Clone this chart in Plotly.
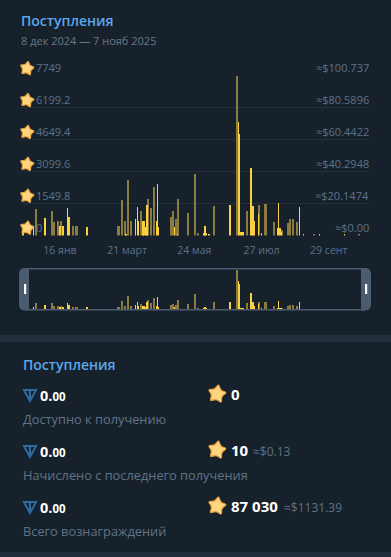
import math
import plotly.graph_objects as go

W, H = 391, 557

# ---- data (days since 8 Dec 2024, stars) ----
dim_days = [16, 32, 34, 37, 40, 52, 55, 95, 98, 101, 104, 107, 116, 123, 126, 129, 145, 147, 150, 152, 161,
            168, 171, 186, 208, 217, 229, 235, 243, 251, 256, 258, 261, 265, 281, 324]
dim_values = [1291, 1210, 645, 710, 710, 484, 484, 484, 1743, 694, 2695, 694, 1178, 1775, 1340, 2340, 920, 1178,
              790, 1775, 1097, 2985, 130, 1436, 7749, 1210, 1500, 1549, 660, 290, 597, 807, 823, 645, 90, 40]
bright_days = [4, 14, 25, 39, 42, 46, 47, 48, 65, 102, 111, 113, 114, 118, 119, 121, 122, 131, 132, 133, 148, 151,
               176, 177, 178, 181, 201, 209, 210, 211, 212, 213, 214, 221, 223, 224, 228, 231, 246, 247, 248, 249,
               250, 267, 271, 286, 310]
bright_values = [300, 400, 855, 484, 484, 1340, 888, 888, 436, 80, 807, 1404, 694, 694, 694, 436, 1500, 694, 2500,
                 400, 400, 80, 110, 484, 110, 80, 1500, 5535, 4920, 190, 190, 190, 150, 3300, 1436, 694, 1065, 100,
                 355, 1597, 355, 355, 160, 1404, 80, 70, 60]
tick_days = [39, 103, 167, 231, 295]
tick_labels = ["16 янв", "21 март", "24 мая", "27 июл", "29 сент"]
star_levels = [7749, 6199.2, 4649.4, 3099.6, 1549.8, 0]
star_labels = ["7749", "6199.2", "4649.4", "3099.6", "1549.8", "0"]
usd_labels = ["≈$100.737", "≈$80.5896", "≈$60.4422", "≈$40.2948", "≈$20.1474", "≈$0.00"]
rows = [("Доступно к получению", "0", ""),
        ("Начислено с последнего получения", "10", "≈$0.13"),
        ("Всего вознаграждений", "87 030", "≈$1131.39")]

BG = "#17212b"
STRIP = "#232e3c"
BLUE = "#5aa7ea"
AXIS = "#5c7189"
GRAY = "#5f7388"
FRAME = "#4c5c70"
FONT = "Open Sans"


def px(x):
    return x / W


def py(y):
    return 1 - y / H


def rect(x0, y0, x1, y1, color):
    return dict(type="rect", xref="paper", yref="paper", x0=px(x0), x1=px(x1), y0=py(y1), y1=py(y0),
                fillcolor=color, line_width=0, layer="below")


def star(cx, cy, r):
    pts = []
    for i in range(10):
        a = -math.pi / 2 + 0.16 + i * math.pi / 5
        rr = r * 1.38 if i % 2 == 0 else r * 0.62
        pts.append((cx + rr * math.cos(a), cy + rr * math.sin(a)))
    d = ""
    n = len(pts)
    for i in range(n):
        x, y = pts[i]
        xn, yn = pts[(i + 1) % n]
        mx, my = (x + xn) / 2, (y + yn) / 2
        if i == 0:
            xp, yp = pts[-1]
            d += f"M{px((xp + x) / 2):.5f},{py((yp + y) / 2):.5f} "
        d += f"Q{px(x):.5f},{py(y):.5f} {px(mx):.5f},{py(my):.5f} "
    return dict(type="path", xref="paper", yref="paper", path=d + "Z", fillcolor="#fdd680",
                line=dict(color="#e8a440", width=1.2), layer="above")


def ton(cx, cy):
    d = (f"M{px(cx-6):.5f},{py(cy-5):.5f} L{px(cx+6):.5f},{py(cy-5):.5f} L{px(cx):.5f},{py(cy+6):.5f} Z "
         f"M{px(cx):.5f},{py(cy-5):.5f} L{px(cx):.5f},{py(cy+6):.5f}")
    return dict(type="path", xref="paper", yref="paper", path=d, fillcolor="rgba(0,0,0,0)",
                line=dict(color="#2f6aa3", width=2), layer="above")


def round_side(x0, x1, y0, y1, r, left):
    if left:
        d = (f"M{px(x1):.5f},{py(y0):.5f} L{px(x0+r):.5f},{py(y0):.5f} Q{px(x0):.5f},{py(y0):.5f} {px(x0):.5f},{py(y0+r):.5f} "
             f"L{px(x0):.5f},{py(y1-r):.5f} Q{px(x0):.5f},{py(y1):.5f} {px(x0+r):.5f},{py(y1):.5f} L{px(x1):.5f},{py(y1):.5f} Z")
    else:
        d = (f"M{px(x0):.5f},{py(y0):.5f} L{px(x1-r):.5f},{py(y0):.5f} Q{px(x1):.5f},{py(y0):.5f} {px(x1):.5f},{py(y0+r):.5f} "
             f"L{px(x1):.5f},{py(y1-r):.5f} Q{px(x1):.5f},{py(y1):.5f} {px(x1-r):.5f},{py(y1):.5f} L{px(x0):.5f},{py(y1):.5f} Z")
    return dict(type="path", xref="paper", yref="paper", path=d, fillcolor=FRAME, line_width=0, layer="above")


def text(x, y, s, size, color, anchor="left", weight=None):
    f = dict(family=FONT, size=size, color=color)
    if weight:
        f["weight"] = weight
    return dict(xref="paper", yref="paper", x=px(x), y=py(y), text=s, showarrow=False, xanchor=anchor,
                yanchor="middle", font=f, borderpad=0, borderwidth=0)


fig = go.Figure()
for xa, ya in (("x", "y"), ("x2", "y2")):
    fig.add_bar(x=dim_days, y=dim_values, width=1.5, marker=dict(color="#8b7b40", line_width=0), xaxis=xa, yaxis=ya)
    fig.add_bar(x=bright_days, y=bright_values, width=0.5, marker=dict(color="#fbd040", line_width=0), xaxis=xa, yaxis=ya)

shapes = [rect(0, 335, W, 342, STRIP), rect(0, 552, W, H, STRIP)]
# overview frame
shapes += [rect(25, 268, 365, 269.5, FRAME), rect(25, 309, 365, 310.5, FRAME)]
shapes[-1]["layer"] = shapes[-2]["layer"] = "above"
shapes += [round_side(19, 29, 268, 310.5, 6, True), round_side(361, 371, 268, 310.5, 6, False)]
for gx in (24, 365):
    s = rect(gx, 284, gx + 2.2, 294, "#ffffff")
    s["layer"] = "above"
    shapes.append(s)

anns = [text(21, 20.5, "Поступления", 14, BLUE, weight=600),
        text(21, 40, "8 дек 2024 — 7 нояб 2025", 11, "#66788a"),
        text(23, 364, "Поступления", 14, BLUE, weight=600)]

for lv, ls, us in zip(star_levels, star_labels, usd_labels):
    anns.append(dict(xref="paper", yref="y", x=px(34.5), y=lv, text=ls, showarrow=False, xanchor="left", yanchor="bottom",
                     font=dict(family=FONT, size=11, color=AXIS), borderpad=0))
    anns.append(dict(xref="paper", yref="y", x=px(370), y=lv, text=us, showarrow=False, xanchor="right", yanchor="bottom",
                     font=dict(family=FONT, size=11, color=AXIS), borderpad=0))
    yc = 235.5 - 159.5 * lv / 7749 - 7.5
    shapes.append(star(27, yc, 6))

for (label, val, usd), yc in zip(rows, (395, 451, 507)):
    shapes.append(ton(30, yc))
    shapes.append(star(217, yc - 1, 7.7))
    anns.append(text(40, yc, '<b>0.</b><span style="font-size:11.5px"><b>00</b></span>', 14.5, "#ffffff"))
    anns.append(text(231, yc - 1, f"<b>{val}</b>", 15, "#ffffff"))
    if usd:
        anns.append(text(253 if val == "10" else 284, yc, usd, 12, GRAY))
    anns.append(text(23, yc + 24, label, 12.8, GRAY))

axis_common = dict(showline=False, zeroline=False, fixedrange=True)
fig.update_layout(
    width=W, height=H, margin=dict(l=0, r=0, t=0, b=0, pad=0), autosize=False,
    paper_bgcolor=BG, plot_bgcolor=BG, showlegend=False, barmode="overlay", bargap=0,
    shapes=shapes, annotations=anns,
    xaxis=dict(domain=[px(19), px(370)], range=[0, 334.3], tickmode="array", tickvals=tick_days, ticktext=tick_labels,
               showgrid=False, ticks="", ticklabelstandoff=7, tickfont=dict(family=FONT, size=10.5, color=AXIS),
               anchor="y", **axis_common),
    yaxis=dict(domain=[py(235.5), py(76)], range=[0, 7749], tickmode="array", tickvals=star_levels, ticktext=[""] * 6,
               showgrid=True, gridcolor="#232e3b", gridwidth=1, showticklabels=False, anchor="x", **axis_common),
    xaxis2=dict(domain=[px(19), px(370)], range=[0, 334.3], visible=False, anchor="y2", **axis_common),
    yaxis2=dict(domain=[py(309), py(269.5)], range=[0, 7749], visible=False, anchor="x2", **axis_common),
)
fig.write_html("out.html", config=dict(displayModeBar=False),
               post_script="document.body.style.margin='0';document.body.style.background='#17212b';")
